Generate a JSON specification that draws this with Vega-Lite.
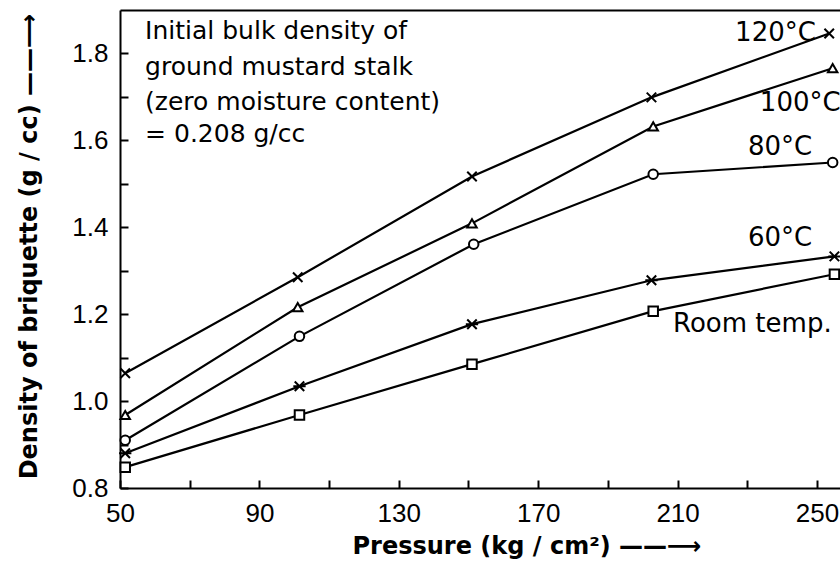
{
  "$schema": "https://vega.github.io/schema/vega-lite/v6.json",
  "width": 720,
  "height": 478,
  "autosize": {"type": "none"},
  "padding": {"left": 120, "top": 10, "right": 0, "bottom": 74},
  "background": "white",
  "config": {
    "view": {"stroke": null},
    "axis": {
      "domainColor": "black",
      "domainWidth": 2,
      "tickColor": "black",
      "tickWidth": 2,
      "tickSize": -8,
      "grid": false,
      "labelFont": "Liberation Sans",
      "labelFontSize": 26,
      "labelColor": "black",
      "titleFont": "DejaVu Sans",
      "titleFontSize": 24,
      "titleFontWeight": "bold",
      "titleColor": "black"
    }
  },
  "datasets": {
    "curves": [
      {"series": "120°C", "pressure": 51.5, "density": 1.064},
      {"series": "120°C", "pressure": 101, "density": 1.285},
      {"series": "120°C", "pressure": 151, "density": 1.517},
      {"series": "120°C", "pressure": 202.5, "density": 1.699},
      {"series": "120°C", "pressure": 253.5, "density": 1.846},
      {"series": "100°C", "pressure": 51.5, "density": 0.968},
      {"series": "100°C", "pressure": 101, "density": 1.216},
      {"series": "100°C", "pressure": 151, "density": 1.409},
      {"series": "100°C", "pressure": 203, "density": 1.632},
      {"series": "100°C", "pressure": 254.5, "density": 1.766},
      {"series": "80°C", "pressure": 51.5, "density": 0.91},
      {"series": "80°C", "pressure": 101.5, "density": 1.149},
      {"series": "80°C", "pressure": 151.5, "density": 1.361},
      {"series": "80°C", "pressure": 203, "density": 1.522},
      {"series": "80°C", "pressure": 254.5, "density": 1.549},
      {"series": "60°C", "pressure": 51.5, "density": 0.88},
      {"series": "60°C", "pressure": 101.5, "density": 1.034},
      {"series": "60°C", "pressure": 151, "density": 1.177},
      {"series": "60°C", "pressure": 202.5, "density": 1.278},
      {"series": "60°C", "pressure": 255, "density": 1.333},
      {"series": "Room temp.", "pressure": 51.5, "density": 0.848},
      {"series": "Room temp.", "pressure": 101.5, "density": 0.968},
      {"series": "Room temp.", "pressure": 151, "density": 1.085},
      {"series": "Room temp.", "pressure": 203, "density": 1.207},
      {"series": "Room temp.", "pressure": 255, "density": 1.292}
    ],
    "labels": [
      {"label": "120°C", "pressure": 226.5, "density": 1.846},
      {"label": "100°C", "pressure": 233.6, "density": 1.686},
      {"label": "80°C", "pressure": 230.2, "density": 1.584},
      {"label": "60°C", "pressure": 230.2, "density": 1.375},
      {"label": "Room temp.", "pressure": 208.7, "density": 1.177}
    ],
    "note": [
      {"text": "Initial bulk density of", "pressure": 57.2, "density": 1.8506},
      {"text": "ground mustard stalk", "pressure": 57.2, "density": 1.7678},
      {"text": "(zero moisture content)", "pressure": 57.2, "density": 1.6874},
      {"text": "= 0.208 g/cc", "pressure": 57.2, "density": 1.6138}
    ]
  },
  "resolve": {"axis": {"x": "independent"}},
  "layer": [
    {
      "data": {"name": "curves"},
      "mark": {"type": "line", "stroke": "black", "strokeWidth": 2.2},
      "encoding": {
        "x": {
          "field": "pressure",
          "type": "quantitative",
          "scale": {"domain": [50, 256.6], "nice": false, "zero": false},
          "axis": {
            "orient": "bottom",
            "values": [50, 70, 90, 110, 130, 150, 170, 190, 210, 230, 250],
            "labelExpr": "datum.value % 40 == 10 ? datum.label : ''",
            "labelPadding": 20,
            "labelFlush": false,
            "title": "Pressure (kg / cm²)   ——⟶",
            "titleAnchor": "start",
            "titleAlign": "left",
            "titleBaseline": "alphabetic",
            "titleX": 232,
            "titleY": 65
          }
        },
        "y": {
          "field": "density",
          "type": "quantitative",
          "scale": {"domain": [0.8, 1.9], "nice": false, "zero": false},
          "axis": {
            "values": [0.8, 0.9, 1.0, 1.1, 1.2, 1.3, 1.4, 1.5, 1.6, 1.7, 1.8],
            "labelExpr": "round(datum.value * 10) % 2 == 0 ? format(datum.value, '.1f') : ''",
            "labelPadding": 20,
            "labelFlush": false,
            "title": "Density of briquette (g / cc)  ——⟶",
            "titleAngle": -90,
            "titleAlign": "center",
            "titleBaseline": "middle",
            "titleX": -91,
            "titleY": 236
          }
        },
        "detail": {"field": "series"}
      }
    },
    {
      "data": {"name": "curves"},
      "mark": {"type": "point", "filled": false, "fill": "white", "fillOpacity": 1, "stroke": "black", "strokeWidth": 2, "opacity": 1, "size": 90},
      "encoding": {
        "x": {
          "field": "pressure",
          "type": "quantitative",
          "axis": {"orient": "top", "labels": false, "ticks": false, "title": null, "domainWidth": 2}
        },
        "y": {"field": "density", "type": "quantitative"},
        "shape": {
          "field": "series",
          "type": "nominal",
          "scale": {
            "domain": ["120°C", "100°C", "80°C", "60°C", "Room temp."],
            "range": ["M-1,-1L1,1M-1,1L1,-1", "triangle-up", "circle", "M-1,-1L1,1M-1,1L1,-1M-1.3,0L1.3,0", "square"]
          },
          "legend": null
        }
      }
    },
    {
      "data": {"name": "labels"},
      "mark": {"type": "text", "font": "DejaVu Sans", "fontSize": 26, "align": "left", "baseline": "middle", "color": "black"},
      "encoding": {
        "x": {"field": "pressure", "type": "quantitative", "axis": null},
        "y": {"field": "density", "type": "quantitative"},
        "text": {"field": "label"}
      }
    },
    {
      "data": {"name": "note"},
      "mark": {"type": "text", "font": "DejaVu Sans", "fontSize": 25, "align": "left", "baseline": "middle", "color": "black"},
      "encoding": {
        "x": {"field": "pressure", "type": "quantitative", "axis": null},
        "y": {"field": "density", "type": "quantitative"},
        "text": {"field": "text"}
      }
    }
  ]
}
